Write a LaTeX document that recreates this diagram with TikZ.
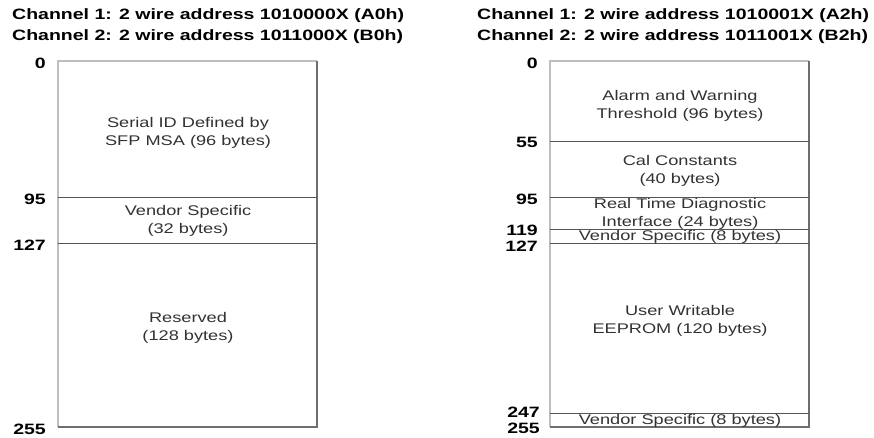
\documentclass[tikz,border=0pt]{standalone}
\usepackage{fontspec}
\usepackage{tikz}
\newfontfamily\widesans[FakeStretch=1.3]{Liberation Sans}
\definecolor{lightedge}{RGB}{190, 190, 190}
\definecolor{darkedge}{RGB}{110, 110, 110}
\definecolor{rulegray}{RGB}{85, 85, 85}
\definecolor{textgray}{RGB}{50, 50, 50}

\begin{document}
\begin{tikzpicture}[x=1pt, y=-1pt,
    head/.style={anchor=base west, inner sep=0pt, font=\widesans\bfseries\fontsize{15}{18}\selectfont},
    addr/.style={anchor=east, inner sep=0pt, font=\widesans\bfseries\fontsize{15}{18}\selectfont},
    field/.style={align=center, inner sep=0pt, text=textgray, font=\widesans\fontsize{14}{18}\selectfont},
    edge/.style={line width=1.2pt},
    cut/.style={rulegray, line width=1pt}]
            % Page size
            \useasboundingbox (0,0) rectangle (874,437);
            % Lower map (A0h)
            \node[head] (hdrAzero)  at ( 12, 19) {Channel 1: 2 wire address 1010000X (A0h)};
            \node[head] (hdrBzero)  at ( 12, 40) {Channel 2: 2 wire address 1011000X (B0h)};
            \draw[lightedge, edge] (317, 61) -- ( 58, 61) -- ( 58,427);
            \draw[darkedge,  edge] ( 58,427) -- (317,427) -- (317, 61);
            \draw[cut]             ( 58,197) -- (317,197);
            \draw[cut]             ( 58,243) -- (317,243);
            \node[addr] (lowZero)   at ( 46, 63) {0};
            \node[addr] (lowNinety) at ( 46,199) {95};
            \node[addr] (lowMid)    at ( 46,245) {127};
            \node[addr] (lowEnd)    at ( 46,429) {255};
            \node[field] (serialId) at (188,133) {Serial ID Defined by\\SFP MSA (96 bytes)};
            \node[field] (vendorA)  at (188,221) {Vendor Specific\\(32 bytes)};
            \node[field] (reserved) at (188,328) {Reserved\\(128 bytes)};
            % Upper map (A2h)
            \node[head] (hdrAtwo)   at (477, 19) {Channel 1: 2 wire address 1010001X (A2h)};
            \node[head] (hdrBtwo)   at (477, 40) {Channel 2: 2 wire address 1011001X (B2h)};
            \draw[lightedge, edge] (809, 61) -- (550, 61) -- (550,427);
            \draw[darkedge,  edge] (550,427) -- (809,427) -- (809, 61);
            \draw[cut]             (550,141) -- (809,141);
            \draw[cut]             (550,197) -- (809,197);
            \draw[cut]             (550,229) -- (809,229);
            \draw[cut]             (550,243) -- (809,243);
            \draw[cut]             (550,413) -- (809,413);
            \node[addr] (upZero)    at (538, 63) {0};
            \node[addr] (upFifty)   at (538,142) {55};
            \node[addr] (upNinety)  at (538,199) {95};
            \node[addr] (upDiag)    at (538,230) {119};
            \node[addr] (upMid)     at (538,246) {127};
            \node[addr] (upUser)    at (540,412) {247};
            \node[addr] (upEnd)     at (540,428) {255};
            \node[field] (alarm)    at (680,106) {Alarm and Warning\\Threshold (96 bytes)};
            \node[field] (calConst) at (680,171) {Cal Constants\\(40 bytes)};
            \node[field] (realTime) at (680,214) {Real Time Diagnostic\\Interface (24 bytes)};
            \node[field] (vendorB)  at (680,237) {Vendor Specific (8 bytes)};
            \node[field] (userEe)   at (680,321) {User Writable\\EEPROM (120 bytes)};
            \node[field] (vendorC)  at (680,421) {Vendor Specific (8 bytes)};
\end{tikzpicture}
\end{document}
